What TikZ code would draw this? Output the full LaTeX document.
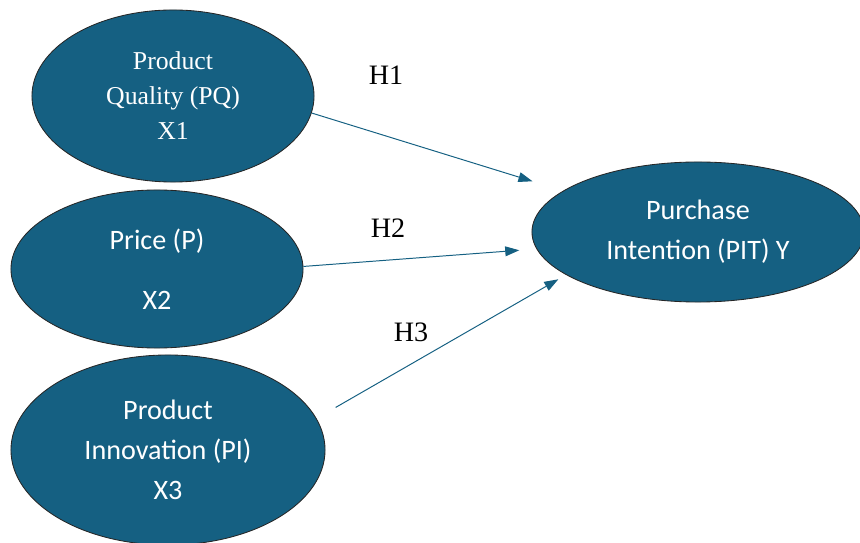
\documentclass[tikz,border=0pt]{standalone}
\usepackage{fontspec}
\setmainfont{Liberation Serif}
\newfontfamily\calibri{Carlito}
\usetikzlibrary{arrows.meta,shapes.geometric}
\definecolor{pblue}{RGB}{21,96,130}

\begin{document}
\begin{tikzpicture}[x=0.025cm,y=-0.025cm,
  construct/.style={ellipse,draw=black!85,line width=0.6pt,fill=pblue,
        text=white,inner sep=0pt,align=center,
        font=\calibri\fontsize{20}{28.5}\selectfont},
  hyp/.style={draw=pblue,line width=0.7pt,
        -{Triangle[length=10pt,width=7pt]}},
  hlabel/.style={font=\fontsize{20}{24}\selectfont}]
  \useasboundingbox (0,0) rectangle (860,543);

  %% Independent constructs
  \node[construct,minimum width=7.05cm,minimum height=4.3cm,
        font=\fontsize{18.3}{24.9}\selectfont] (pq) at (173,96)
        {Product\\Quality (PQ)\\X1};
  \node[construct,minimum width=7.3cm,minimum height=3.95cm] (price)
        at (157,269) {Price (P)\\[14pt]X2};
  \node[construct,minimum width=7.85cm,minimum height=4.75cm] (pi)
        at (168,450) {Product\\Innovation (PI)\\X3};

  %% Dependent construct
  \node[construct,minimum width=8.3cm,minimum height=3.5cm] (pit)
        at (698,232) {Purchase\\Intention (PIT) Y};

  %% Hypotheses
  \draw[hyp,shorten >=0.8cm] (pq.-7) -- (pit.163);
  \draw[hyp,shorten >=0.43cm] (price.1) -- (pit.186);
  \draw[hyp,shorten <=0.55cm,shorten >=0.22cm] (pi.12) -- (pit.198);

  \node[hlabel] (h1) at (386,75) {H1};
  \node[hlabel] (h2) at (388,228) {H2};
  \node[hlabel] (h3) at (411,332) {H3};
\end{tikzpicture}
\end{document}
